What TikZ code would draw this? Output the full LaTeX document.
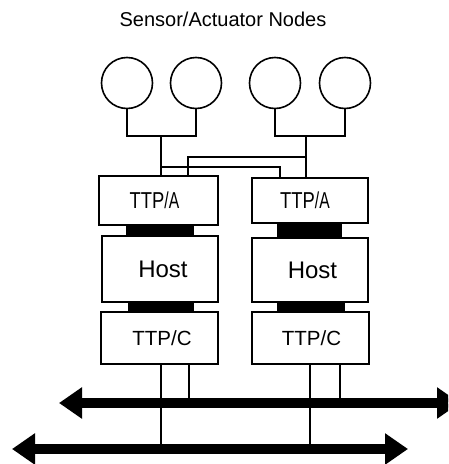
\documentclass[tikz,border=0pt]{standalone}
\usepackage{fontspec}
\setmainfont{Liberation Sans}
\usetikzlibrary{arrows.meta}
\tikzset{
  sensor/.style={circle,draw,line width=1.6pt,minimum size=51pt,inner sep=0pt},
  unit/.style={draw,line width=1.6pt,inner sep=0pt,fill=white},
  link/.style={fill=black,draw=none,inner sep=0pt},
  wire/.style={line width=1.6pt},
  tap/.style={line width=1.3pt},
  bus/.style={line width=10pt,{Triangle[length=23pt,width=30pt]}-{Triangle[length=23pt,width=30pt]}},
  atext/.style={font=\fontsize{23}{23}\selectfont},
  htext/.style={font=\fontsize{24}{24}\selectfont},
  ctext/.style={font=\fontsize{20.5}{21}\selectfont},
}
\newcommand{\ttpa}{\scalebox{0.8}[1]{TTP}\scalebox{0.68}[1]{/A}}
\begin{document}
\begin{tikzpicture}[x=1pt,y=-1pt]
\useasboundingbox (0,0) rectangle (448,464);
\clip (0,0) rectangle (448,464);

% heading
\node[font=\fontsize{20}{22}\selectfont] (title) at (223,19) {Sensor/Actuator Nodes};

% sensor and actuator nodes
\node[sensor] (s1) at (127,83) {};
\node[sensor] (s2) at (196,83) {};
\node[sensor] (s3) at (275,83) {};
\node[sensor] (s4) at (345,83) {};

% interface links (black bars) drawn below the boxes
\node[link,minimum width=68pt,minimum height=12pt] (lA1) at (160,230.5) {};
\node[link,minimum width=66pt,minimum height=11pt] (lC1) at (161,307) {};
\node[link,minimum width=65pt,minimum height=16pt] (lA2) at (309.5,230.5) {};
\node[link,minimum width=68pt,minimum height=11pt] (lC2) at (311,307) {};

% left node stack
\node[unit,minimum width=119pt,minimum height=49pt,
      label={[atext,xshift=-4pt]center:\ttpa}] (ttpa1) at (158.5,200.5) {};
\node[unit,minimum width=116pt,minimum height=66pt,
      label={[htext,xshift=3pt]center:Host}] (host1) at (160,269) {};
\node[unit,minimum width=117pt,minimum height=52pt,
      label={[ctext,xshift=2.5pt]center:TTP/C}] (ttpc1) at (159.5,338) {};

% right node stack
\node[unit,minimum width=116pt,minimum height=45pt,
      label={[atext,xshift=-5pt]center:\ttpa}] (ttpa2) at (310,200.5) {};
\node[unit,minimum width=116pt,minimum height=64pt,
      label={[htext,xshift=2.5pt]center:Host}] (host2) at (310,270) {};
\node[unit,minimum width=117pt,minimum height=52pt,
      label={[ctext,xshift=1pt]center:TTP/C}] (ttpc2) at (310.5,338) {};

% sensor wiring
\coordinate (jL) at (161,136);
\coordinate (jR) at (306,136);
\coordinate (xA) at (188,157);
\coordinate (xB) at (280,167);
\draw[wire] (s1.south) |- (jL) -| (s2.south);
\draw[wire] (s3.south) |- (jR) -| (s4.south);
\draw[wire] (jL) -- (jL |- ttpa1.north);
\draw[wire] (jR) -- (jR |- ttpa2.north);
\draw[wire] (jR |- xA) -- (xA) -- (xA |- ttpa1.north);
\draw[wire] (jL |- xB) -- (xB) -- (xB |- ttpa2.north);

% replicated TTP/C channels
\coordinate (busAl) at (59,403);
\coordinate (busAr) at (460,403);
\coordinate (busBl) at (12,449);
\coordinate (busBr) at (408,449);
\draw[bus] (busAl) -- (busAr);
\draw[bus] (busBl) -- (busBr);

\draw[tap] (ttpc1.south -| 161,0) -- (161,449);
\draw[tap] (ttpc1.south -| 189,0) -- (189,403);
\draw[tap] (ttpc2.south -| 310,0) -- (310,449);
\draw[tap] (ttpc2.south -| 340,0) -- (340,403);
\end{tikzpicture}
\end{document}
